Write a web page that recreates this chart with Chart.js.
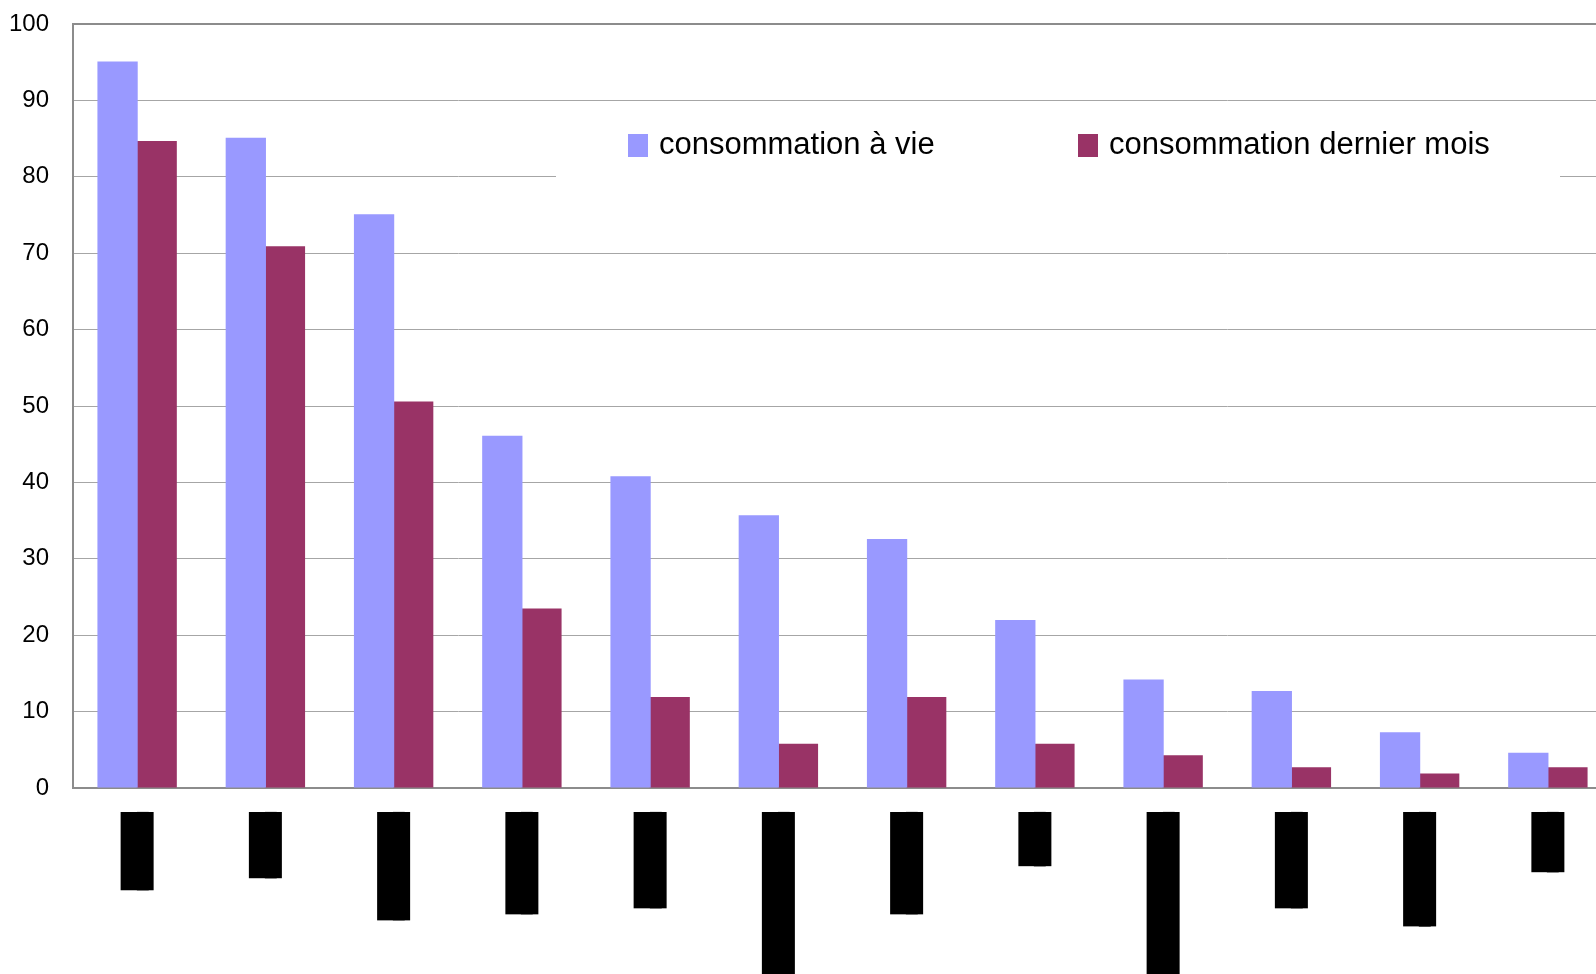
<!DOCTYPE html>
<html lang="fr">
<head>
<meta charset="utf-8">
<title>Consommation à vie / dernier mois</title>
<script src="https://cdn.jsdelivr.net/npm/chart.js@4.4.1/dist/chart.umd.min.js"></script>
<style>
  html, body { margin: 0; padding: 0; background: #fff; overflow: hidden; }
  #wrap { width: 1612px; height: 974px; }
</style>
</head>
<body>
<div id="wrap"><canvas id="chart" width="1612" height="974"></canvas></div>
<script>
// category names are blacked out in the source, so they stay as black blocks
const categories = [
  '█████████████',
  '███████████',
  '██████████████████',
  '█████████████████',
  '████████████████',
  '███████████████████████████',
  '█████████████████',
  '█████████',
  '███████████████████████████',
  '████████████████',
  '███████████████████',
  '██████████'
]
const lifetimeUse = [95.1, 85.1, 75.1, 46.1, 40.8, 35.7, 32.6, 22, 14.2, 12.7, 7.3, 4.6]
const lastMonthUse = [84.7, 70.9, 50.6, 23.5, 11.9, 5.8, 11.9, 5.8, 4.3, 2.7, 1.9, 2.7]
const yTicks = [0, 10, 20, 30, 40, 50, 60, 70, 80, 90, 100]

const seriesNames = ['consommation à vie', 'consommation dernier mois']
const legendX = [628, 1078]

const AXIS_GREY = '#8c8c8c'
const GRID_GREY = '#a6a6a6'

// legend sits inside the plot on a white box that hides the 80 gridline
const legendBox = {
  id: 'legendBox',
  afterDraw(chart) {
    const ctx = chart.ctx
    ctx.save()
    ctx.fillStyle = '#ffffff'
    ctx.fillRect(556, 108, 1004, 74)
    ctx.font = '31px "Liberation Sans", Arial, sans-serif'
    ctx.textBaseline = 'alphabetic'
    chart.data.datasets.forEach((ds, i) => {
      const x = legendX[i]
      ctx.fillStyle = ds.backgroundColor
      ctx.fillRect(x, 134, 20, 23)
      ctx.fillStyle = '#000000'
      ctx.fillText(ds.label, x + 31, 154)
    })
    ctx.restore()
  }
}

new Chart(document.getElementById('chart'), {
  type: 'bar',
  data: {
    labels: categories,
    datasets: [
      {
        label: seriesNames[0],
        data: lifetimeUse,
        backgroundColor: '#9999ff',
        borderWidth: 0,
        barPercentage: 1.03,
        categoryPercentage: 0.61
      },
      {
        label: seriesNames[1],
        data: lastMonthUse,
        backgroundColor: '#993366',
        borderWidth: 0,
        barPercentage: 1.03,
        categoryPercentage: 0.61
      }
    ]
  },
  options: {
    responsive: false,
    animation: false,
    devicePixelRatio: 1,
    layout: {
      padding: { top: 24, left: 7, right: 0, bottom: 0 }
    },
    plugins: {
      legend: { display: false },
      tooltip: { enabled: false },
      title: { display: false }
    },
    scales: {
      x: {
        afterFit: axis => { axis.height = 186 },
        grid: { display: false },
        border: { display: true, color: AXIS_GREY, width: 2 },
        ticks: {
          autoSkip: false,
          minRotation: 90,
          maxRotation: 90,
          padding: 16,
          color: '#000000',
          font: { family: '"DejaVu Sans Mono", monospace', size: 10, lineHeight: '12px' },
          showLabelBackdrop: true,
          backdropColor: '#000000',
          // rotated labels are drawn half a line off the tick, pad so the block is centred
          backdropPadding: { top: 16.5, bottom: 4.5, left: 0, right: 0 }
        }
      },
      y: {
        min: 0,
        max: 100,
        afterFit: axis => {
          axis.width = 66
          axis.paddingTop = 0
          axis.paddingBottom = 0
        },
        afterBuildTicks: axis => {
          axis.ticks = yTicks.map(v => ({ value: v }))
        },
        grid: {
          drawTicks: false,
          color: ctx => (ctx.tick && ctx.tick.value === 100 ? AXIS_GREY : GRID_GREY),
          lineWidth: ctx => (ctx.tick && ctx.tick.value === 100 ? 2 : 1)
        },
        border: { display: true, color: AXIS_GREY, width: 2 },
        ticks: {
          padding: 24,
          color: '#000000',
          font: { family: '"Liberation Sans", Arial, sans-serif', size: 24 }
        }
      }
    }
  },
  plugins: [legendBox]
})
</script>
</body>
</html>
